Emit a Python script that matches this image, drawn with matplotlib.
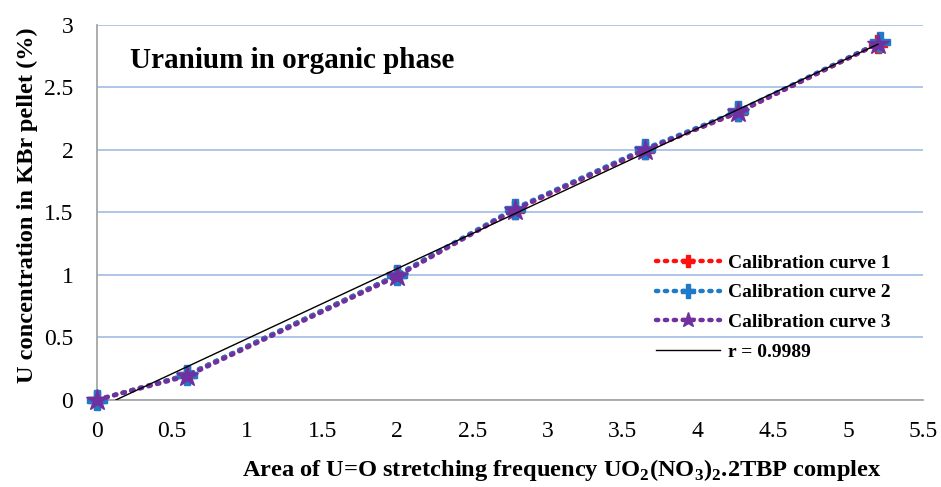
import numpy as np
import matplotlib
matplotlib.use('Agg')
import matplotlib.pyplot as plt

plt.rcParams['font.family'] = ['Liberation Serif', 'DejaVu Serif']
plt.rcParams['mathtext.fontset'] = 'custom'
plt.rcParams['mathtext.rm'] = 'Liberation Serif'
plt.rcParams['mathtext.bf'] = 'Liberation Serif:bold'

# peak areas (x) and uranium concentration (y) for the three calibration runs
area1 = [0.0, 0.60, 2.00, 2.78, 3.65, 4.27, 5.20]
conc1 = [0.0, 0.20, 1.00, 1.52, 2.00, 2.30, 2.85]
area2 = [0.0, 0.60, 2.00, 2.78, 3.65, 4.27, 5.21]
conc2 = [0.0, 0.20, 1.00, 1.53, 2.01, 2.31, 2.86]
area3 = [0.0, 0.60, 2.00, 2.78, 3.65, 4.27, 5.20]
conc3 = [0.0, 0.19, 0.99, 1.52, 2.00, 2.30, 2.85]
r_label = 'r = 0.9989'

xticks = [0, 0.5, 1, 1.5, 2, 2.5, 3, 3.5, 4, 4.5, 5, 5.5]
yticks = [0, 0.5, 1, 1.5, 2, 2.5, 3]

fig = plt.figure(figsize=(9.41, 4.87), dpi=100)
ax = fig.add_axes([0.103, 0.179, 0.878, 0.770])

dots = (0, (0.5, 1.5))
ax.plot(area1, conc1, color='#FF1010', ls=dots, lw=3.2, dash_capstyle='round',
        marker='P', ms=13, mec='#FF1010', label='Calibration curve 1', zorder=3, clip_on=False)
ax.plot(area2, conc2, color='#1F7BC8', ls=dots, lw=3.2, dash_capstyle='round',
        marker='P', ms=15, mec='#1F7BC8', label='Calibration curve 2', zorder=4, clip_on=False)
ax.plot(area3, conc3, color='#7030A0', ls=dots, lw=3.2, dash_capstyle='round',
        marker='*', ms=16, mec='#7030A0', label='Calibration curve 3', zorder=5, clip_on=False)

# linear fit through all the points, drawn from where it crosses y = 0
xa = np.array(area1 + area2 + area3)
ya = np.array(conc1 + conc2 + conc3)
k, b = np.polyfit(xa, ya, 1)
xf = np.array([-b / k, max(area1)])
ax.plot(xf, k * xf + b, color='black', lw=1.0, label=r_label, zorder=6)

ax.set_xlim(0, 5.5)
ax.set_ylim(0, 3)
ax.set_xticks(xticks)
ax.set_xticklabels([f'{t:g}' for t in xticks])
ax.set_yticks(yticks)
ax.set_yticklabels([f'{t:g}' for t in yticks])
ax.tick_params(length=0, labelsize=17)
ax.tick_params(axis='x', pad=15)
ax.tick_params(axis='y', pad=17)
ax.yaxis.grid(True, color='#A9C2E8', lw=1.3)
ax.set_axisbelow(True)
for s in ['top', 'right']:
    ax.spines[s].set_visible(False)
for s in ['left', 'bottom']:
    ax.spines[s].set_color('#A6A6A6')
    ax.spines[s].set_linewidth(1.3)

ax.text(0.04, 0.905, 'Uranium in organic phase', transform=ax.transAxes,
        fontsize=21, fontweight='bold', va='center')

ax.set_xlabel(r'Area of U=O stretching frequency UO$_\mathbf{2}$(NO$_\mathbf{3}$)$_\mathbf{2}$.2TBP complex',
              fontsize=17.6, fontweight='bold', labelpad=11, x=0.562)
ax.set_ylabel('U concentration in KBr pellet (%)', fontsize=17.6, fontweight='bold',
              labelpad=4, y=0.52)

leg = ax.legend(loc='upper left', bbox_to_anchor=(0.655, 0.435), frameon=False,
                prop={'size': 14, 'weight': 'bold'}, handlelength=3.3,
                labelspacing=0.62, handletextpad=0.4, markerscale=0.7)

fig.savefig('out.png', dpi=100)
